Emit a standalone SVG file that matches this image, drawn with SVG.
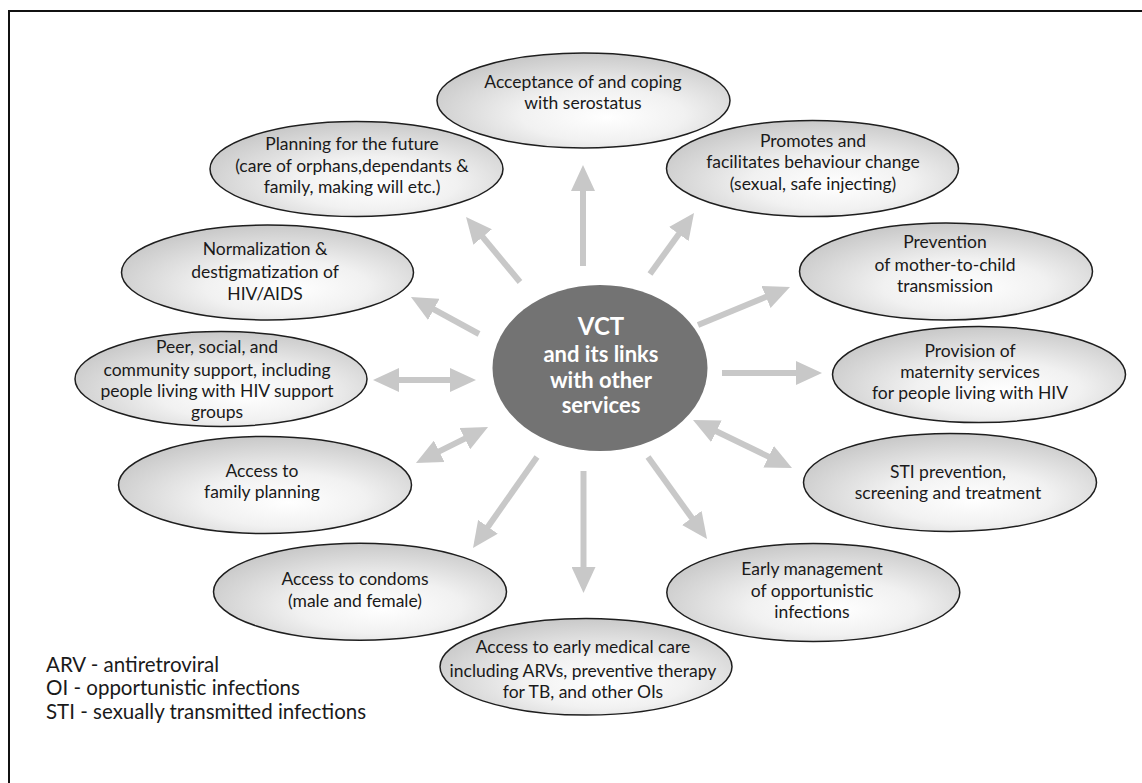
<svg xmlns="http://www.w3.org/2000/svg" width="1142" height="783" viewBox="0 0 1142 783">
<defs>
<radialGradient id="g" cx="55%" cy="62%" r="62%" fx="58%" fy="68%">
<stop offset="0" stop-color="#ffffff"/>
<stop offset="0.45" stop-color="#f1f1f1"/>
<stop offset="1" stop-color="#c9c9c9"/>
</radialGradient>
<marker id="ah" viewBox="0 0 26 24" refX="14" refY="12" markerWidth="26" markerHeight="24" markerUnits="userSpaceOnUse" orient="auto-start-reverse">
<path d="M0,0 L26,12 L0,24 z" fill="#c8c8c8"/>
</marker>
</defs>
<style>
.n ellipse{fill:url(#g);stroke:#1e1e1e;stroke-width:1.5}
.n text{font-family:Lato,"Open Sans",sans-serif;font-size:17.5px;fill:#1a1a1a;text-anchor:middle}
.c line{stroke:#c8c8c8;stroke-width:6;marker-end:url(#ah)}
.c line.d{marker-start:url(#ah)}
.lg{font-family:Lato,"Open Sans",sans-serif;font-size:20.5px;fill:#1a1a1a}
</style>
<rect width="1142" height="783" fill="#ffffff"/>
<path d="M9,784 V11 H1143" fill="none" stroke="#111" stroke-width="2"/>

<g id="connectors" class="c">
<line x1="583" y1="266" x2="583" y2="177"/>
<line x1="520" y1="282" x2="473.7" y2="226.2"/>
<line x1="650" y1="274" x2="687" y2="222.7"/>
<line x1="479" y1="334" x2="421.5" y2="302.7"/>
<line class="d" x1="385" y1="380" x2="464" y2="380"/>
<line class="d" x1="426.7" y1="457.6" x2="477.3" y2="432.4"/>
<line x1="537" y1="457" x2="479.9" y2="538.2"/>
<line x1="583.5" y1="471" x2="583.5" y2="581"/>
<line x1="648" y1="457" x2="700" y2="529.3"/>
<line class="d" x1="703.8" y1="425.2" x2="781.2" y2="462.8"/>
<line x1="722" y1="373" x2="810" y2="373"/>
<line x1="698" y1="325" x2="778.9" y2="291.6"/>
</g>

<g id="vct">
<ellipse cx="600" cy="368" rx="107.5" ry="83" fill="#737373"/>
<g font-family="Lato,'Open Sans',sans-serif" font-weight="bold" fill="#ffffff" text-anchor="middle">
<text x="601" y="335" font-size="24px">VCT</text>
<text x="601" y="362" font-size="22px">and its links</text>
<text x="601" y="388" font-size="22px">with other</text>
<text x="601" y="413" font-size="22px">services</text>
</g>
</g>

<g id="acceptance" class="n">
<ellipse cx="583.5" cy="100.5" rx="146.5" ry="47.5"/>
<text x="583" y="88">Acceptance of and coping</text>
<text x="583" y="109">with serostatus</text>
</g>

<g id="planning" class="n">
<ellipse cx="356.5" cy="169" rx="146.5" ry="47.5"/>
<text x="352" y="150">Planning for the future</text>
<text x="352" y="172">(care of orphans,dependants &amp;</text>
<text x="352" y="193">family, making will etc.)</text>
</g>

<g id="promotes" class="n">
<ellipse cx="812.5" cy="168.5" rx="146" ry="48"/>
<text x="813" y="147">Promotes and</text>
<text x="813" y="168">facilitates behaviour change</text>
<text x="813" y="190">(sexual, safe injecting)</text>
</g>

<g id="normalization" class="n">
<ellipse cx="267.5" cy="272.5" rx="146" ry="47.5"/>
<text x="265" y="255">Normalization &amp;</text>
<text x="265" y="278">destigmatization of</text>
<text x="265" y="300">HIV/AIDS</text>
</g>

<g id="prevention" class="n">
<ellipse cx="946" cy="271.5" rx="146.5" ry="48.5"/>
<text x="945" y="248">Prevention</text>
<text x="945" y="271">of mother-to-child</text>
<text x="945" y="292">transmission</text>
</g>

<g id="peer" class="n">
<ellipse cx="221" cy="379" rx="146" ry="47.5"/>
<text x="217" y="353">Peer, social, and</text>
<text x="217" y="376">community support, including</text>
<text x="217" y="397">people living with HIV support</text>
<text x="217" y="418">groups</text>
</g>

<g id="provision" class="n">
<ellipse cx="979" cy="374.5" rx="146.5" ry="48"/>
<text x="970" y="357">Provision of</text>
<text x="970" y="378">maternity services</text>
<text x="970" y="399">for people living with HIV</text>
</g>

<g id="family" class="n">
<ellipse cx="265" cy="485" rx="146.5" ry="48.5"/>
<text x="262" y="477">Access to</text>
<text x="262" y="498">family planning</text>
</g>

<g id="sti" class="n">
<ellipse cx="950" cy="482.5" rx="146.5" ry="49"/>
<text x="948" y="478">STI  prevention,</text>
<text x="948" y="499">screening  and treatment</text>
</g>

<g id="condoms" class="n">
<ellipse cx="360" cy="591.7" rx="146.5" ry="48.5"/>
<text x="355" y="585">Access to condoms</text>
<text x="355" y="607">(male and female)</text>
</g>

<g id="early" class="n">
<ellipse cx="813.3" cy="592.5" rx="146.5" ry="49"/>
<text x="812" y="575">Early management</text>
<text x="812" y="597">of opportunistic</text>
<text x="812" y="618">infections</text>
</g>

<g id="medical" class="n">
<ellipse cx="586" cy="666.7" rx="146" ry="48.3"/>
<text x="583" y="653">Access to early medical care</text>
<text x="583" y="677">including ARVs, preventive therapy</text>
<text x="583" y="698">for TB, and other OIs</text>
</g>

<g id="legend">
<text class="lg" x="46" y="672">ARV - antiretroviral</text>
<text class="lg" x="46" y="695">OI - opportunistic infections</text>
<text class="lg" x="46" y="719">STI - sexually transmitted infections</text>
</g>
</svg>
